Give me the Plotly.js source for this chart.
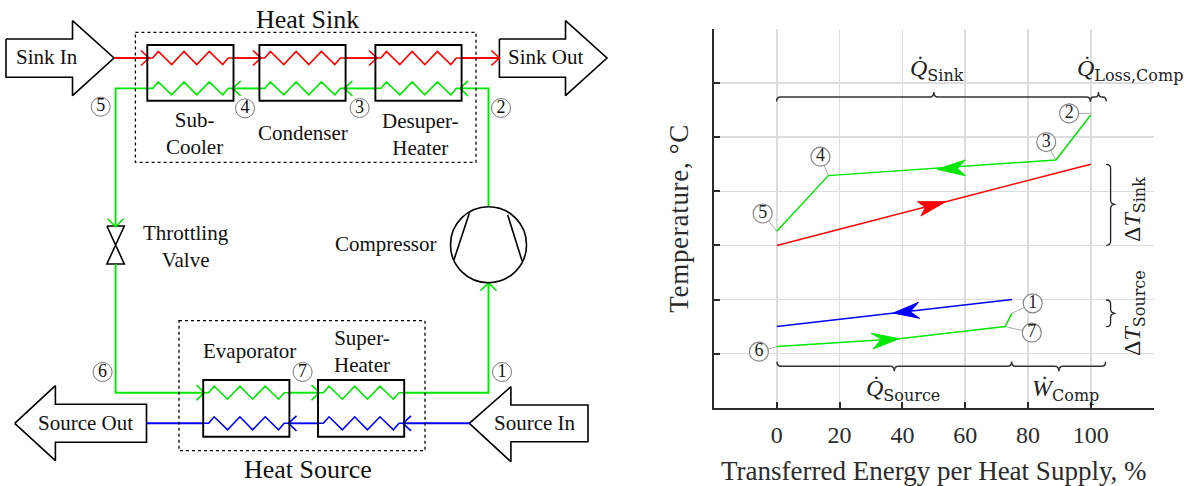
<!DOCTYPE html>
<html><head><meta charset="utf-8">
<script src="https://cdn.plot.ly/plotly-3.0.1.min.js"></script>
<style>html,body{margin:0;padding:0;background:#fff}#c{width:1190px;height:486px}</style>
</head><body><div id="c"></div>
<script>
// ---- T-Q chart values (x: % of heat supply, y: temperature in grid steps; the source has no y numbers)
const sinkX = [0, 100];
const sinkY = [3.0, 4.5];
const sourceX = [0, 74.9];
const sourceY = [1.5, 2.0];
const hotSideX = [0, 16.4, 88.9, 100];
const hotSideY = [3.26, 4.29, 4.58, 5.41];
const coldSideX = [0, 38.9, 72.7, 74.9];
const coldSideY = [1.13, 1.275, 1.5, 1.745];
const xTicks = [0, 20, 40, 60, 80, 100];
const yTicks = [0, 1, 2, 3, 4, 5, 6, 7];
const stateLabels = ['1', '2', '3', '4', '5', '6', '7'];
const stateX = [81.5, 93.1, 85.8, 13.9, -4.5, -5.7, 81.2];
const stateY = [1.93, 5.44, 4.91, 4.64, 3.59, 1.035, 1.386];
const stateAnchorX = [74.9, 100, 88.9, 16.4, 0, 0, 72.7];
const stateAnchorY = [1.745, 5.44, 4.58, 4.29, 3.26, 1.13, 1.5];

// ---- schematic geometry (page pixels, drawn on a hidden full-page axis pair)
const sinkInArrow = [[6,39],[72.5,39],[72.5,20.7],[114,58],[72.5,95.7],[72.5,77.3],[6,77.3],[6,39]];
const sinkOutArrow = [[499.4,39],[565.5,39],[565.5,20.7],[607,58],[565.5,95.7],[565.5,77.3],[499.4,77.3],[499.4,39]];
const sourceInArrow = [[469.3,423.3],[510.9,386.7],[510.9,405],[588,405],[588,441.7],[510.9,441.7],[510.9,461.7],[469.3,423.3]];
const sourceOutArrow = [[14.7,423.3],[55.4,385.7],[55.4,404.3],[146.5,404.3],[146.5,442.3],[55.4,442.3],[55.4,460.7],[14.7,423.3]];
const valve = [[106.9,226],[124.3,226],[115.6,245],[106.9,264],[124.3,264],[115.6,245],[106.9,226]];
const compBladeL = [[469.3,213.3],[453.9,260]];
const compBladeR = [[507.7,215],[522,260.7]];
const sinkBoxesX = [147.3, 259.4, 375.4];
const sourceBoxesX = [203.2, 318];
const boxW = 86.2;
const coilDX = [0,5.4,11,24.4,36.7,49.4,62,75.4,81,86.2];
const coilDY = [0,0,-6.5,6.5,-6.5,6.5,-6.5,6.5,0,0];
const yRedLine = 58, yGreenTop = 88.4, yGreenLow = 392.7, yBlue = 423.3;
const redPipe = [[114,yRedLine],[147.3,yRedLine]], redPipe2 = [[233.5,yRedLine],[259.4,yRedLine]], redPipe3 = [[345.6,yRedLine],[375.4,yRedLine]], redPipe4 = [[461.6,yRedLine],[499.4,yRedLine]];
const greenPipes = [
  [[488.5,206.7],[488.5,yGreenTop],[461.6,yGreenTop]],
  [[375.4,yGreenTop],[345.6,yGreenTop]],
  [[259.4,yGreenTop],[233.5,yGreenTop]],
  [[147.3,yGreenTop],[115.6,yGreenTop],[115.6,226]],
  [[115.6,264],[115.6,yGreenLow],[203.2,yGreenLow]],
  [[289.4,yGreenLow],[318,yGreenLow]],
  [[404.2,yGreenLow],[488.5,yGreenLow],[488.5,282.7]]
];
const bluePipes = [[[469.3,yBlue],[404.2,yBlue]],[[318,yBlue],[289.4,yBlue]],[[203.2,yBlue],[146.5,yBlue]]];
// open arrow heads: tip x, tip y, direction
const openHeads = [
  ['r',149,yRedLine,1],['r',261,yRedLine,1],['r',377,yRedLine,1],['r',499.4,yRedLine,1],
  ['g',460,yGreenTop,-1],['g',344.4,yGreenTop,-1],['g',232.7,yGreenTop,-1],
  ['g',204.5,yGreenLow,1],['g',319.5,yGreenLow,1],
  ['b',403,yBlue,-1],['b',288.5,yBlue,-1]
];
const openHeadsV = [['g',115.6,226.7,1],['g',488.5,282.7,-1]];
// filled stealth heads on the chart
const redHead = [[945.7,201.7],[917.6,201.7],[925.4,207.3],[921,216],[945.7,201.7]];
const greenHead = [[937.2,169.3],[965.3,160],[957.5,168.3],[965.3,175.7],[937.2,169.3]];
const blueHead = [[893.3,313],[918.6,302.3],[910.2,311.7],[919.6,318.3],[893.3,313]];
const lowGreenHead = [[899.3,338.7],[871.3,333.3],[881.4,339.3],[873,349],[899.3,338.7]];
const schemLabels = ['1','2','3','4','5','6','7'];
const schemX = [502, 501, 359.6, 245, 100.7, 102.6, 302.6];
const schemY = [372, 108, 108, 108.3, 106.7, 372, 372];
const texts = [
  ['Heat Sink',307,19,26],['Sink In',46.7,57,21],['Sink Out',545.7,57,21],
  ['Sub-<br>Cooler',194,133.5,21],['Condenser',303,133,21],['Desuper-<br>Heater',420.6,134,21],
  ['Throttling<br>Valve',186,246,21],['Compressor',386,244,21],
  ['Evaporator',249.5,350.7,21],['Super-<br>Heater',362.4,351.5,21],
  ['Source Out',85.5,422.7,21],['Source In',535.4,422.7,21],['Heat Source',308,469.3,26]
];
const sub = s => `<span style="font-family:DejaVu Serif;font-size:16px;baseline-shift:-5px">${s}</span>`;
const mathTexts = [
  ['<i>Q\u0307</i>'+sub('Sink'),937,70,0],
  ['<i>Q\u0307</i>'+sub('Loss,Comp'),1130,70,0],
  ['<i>Q\u0307</i>'+sub('Source'),902.7,390,0],
  ['<i>W\u0307</i>'+sub('Comp'),1065,390,0],
  ['\u0394<i>T</i>'+sub('Sink'),1134,210,-90],
  ['\u0394<i>T</i>'+sub('Source'),1134,313,-90]
];
// curly braces: x0,y,x1 (bar ends), tip coordinate, tip side
const hBraces = [[776.6,97,1090.4,933.8,-1],[1090.4,97,1106.2,1098.5,-1],[777,366.3,1011.6,894.3,1],[1011.6,366.3,1105.6,1058.9,1]];
const vBraces = [[1110.6,164.3,245.3,204.3],[1110.6,300,326.7,313.3]];

const RED='#ff0000', GREEN='#00e800', BLUE='#0000ff', SERIF='"Liberation Serif", "Times New Roman", serif', INK='#2b2b2b';
const colorOf = {r:RED,g:GREEN,b:BLUE};

function poly(points, color, width, extra){
  return Object.assign({type:'scatter',mode:'lines',xaxis:'x2',yaxis:'y2',hoverinfo:'skip',showlegend:false,
    x:points.map(p=>p[0]),y:points.map(p=>p[1]),line:{color:color,width:width}},extra||{});
}
function coil(x0,y,color){
  return poly(coilDX.map((d,i)=>[x0+d,y+coilDY[i]]),color,1.6);
}
const traces=[];
function series(x,y,color,name){traces.push({type:'scatter',mode:'lines',name:name,x:x,y:y,line:{color:color,width:1.5},hoverinfo:'skip',showlegend:false});}
stateLabels.forEach((l,i)=>traces.push({type:'scatter',mode:'lines',x:[stateX[i],stateAnchorX[i]],y:[stateY[i],stateAnchorY[i]],line:{color:'#aaaaaa',width:1},hoverinfo:'skip',showlegend:false}));
series(sinkX,sinkY,RED,'Sink');
series(sourceX,sourceY,BLUE,'Source');
series(hotSideX,hotSideY,GREEN,'Refrigerant, high pressure');
series(coldSideX,coldSideY,GREEN,'Refrigerant, low pressure');
traces.push({type:'scatter',mode:'markers+text',x:stateX,y:stateY,text:stateLabels,textposition:'middle center',
  textfont:{family:SERIF,size:18,color:'#222'},marker:{size:19,color:'#ffffff',line:{color:'#888888',width:1.2}},hoverinfo:'skip',showlegend:false});
[[redHead,RED],[greenHead,GREEN],[blueHead,BLUE],[lowGreenHead,GREEN]].forEach(h=>traces.push(poly(h[0],h[1],1,{fill:'toself',fillcolor:h[1]})));
[sinkInArrow,sinkOutArrow,sourceInArrow,sourceOutArrow,valve,compBladeL,compBladeR].forEach(p=>traces.push(poly(p,'#000',1.6)));
[redPipe,redPipe2,redPipe3,redPipe4].forEach(p=>traces.push(poly(p,RED,1.9)));
greenPipes.forEach(p=>traces.push(poly(p,GREEN,1.9)));
bluePipes.forEach(p=>traces.push(poly(p,BLUE,1.9)));
sinkBoxesX.forEach(x=>{traces.push(coil(x,yRedLine,RED));traces.push(coil(x,yGreenTop,GREEN));});
sourceBoxesX.forEach(x=>{traces.push(coil(x,yGreenLow,GREEN));traces.push(coil(x,yBlue,BLUE));});
openHeads.forEach(h=>traces.push(poly([[h[1]-8*h[3],h[2]-7.5],[h[1],h[2]],[h[1]-8*h[3],h[2]+7.5]],colorOf[h[0]],1.6)));
openHeadsV.forEach(h=>traces.push(poly([[h[1]-8,h[2]-8*h[3]],[h[1],h[2]],[h[1]+8,h[2]-8*h[3]]],colorOf[h[0]],1.6)));
traces.push({type:'scatter',mode:'markers+text',xaxis:'x2',yaxis:'y2',x:schemX,y:schemY,text:schemLabels,textposition:'middle center',
  textfont:{family:SERIF,size:18,color:'#111'},marker:{size:19,color:'rgba(255,255,255,0)',line:{color:'#777777',width:1}},hoverinfo:'skip',showlegend:false});

const shapes=[];
function rect(x0,y0,x1,y1,dash){shapes.push({type:'rect',xref:'x2',yref:'y2',x0,y0,x1,y1,line:{color:'#000',width:dash?1.3:1.9,dash:dash||'solid'}});}
rect(135.4,32.3,476,162.3,'dot');
rect(179,320.7,425,450.7,'dot');
sinkBoxesX.forEach(x=>rect(x,45,x+boxW,100.7));
sourceBoxesX.forEach(x=>rect(x,380,x+boxW,436.7));
shapes.push({type:'circle',xref:'x2',yref:'y2',x0:450.5,x1:526.5,y0:206.7,y1:282.7,line:{color:'#000',width:1.6}});
hBraces.forEach(b=>{const [x0,y,x1,t,s]=b,e=y-s*4.5,tip=y+s*5,r=Math.min(4,(x1-x0)/5);
  shapes.push({type:'path',xref:'x2',yref:'y2',line:{color:'#333',width:1.5},
  path:`M${x0},${e} Q${x0},${y} ${x0+r},${y} L${t-r},${y} Q${t},${y} ${t},${tip} Q${t},${y} ${t+r},${y} L${x1-r},${y} Q${x1},${y} ${x1},${e}`});});
vBraces.forEach(b=>{const [x,y0,y1,t]=b,e=x-4.5,tip=x+5,r=4;
  shapes.push({type:'path',xref:'x2',yref:'y2',line:{color:'#222',width:1.3},
  path:`M${e},${y0} Q${x},${y0} ${x},${y0+r} L${x},${t-r} Q${x},${t} ${tip},${t} Q${x},${t} ${x},${t+r} L${x},${y1-r} Q${x},${y1} ${e},${y1}`});});

const annotations=[];
texts.forEach(t=>annotations.push({xref:'x2',yref:'y2',x:t[1],y:t[2],text:t[0],showarrow:false,xanchor:'center',yanchor:'middle',
  font:{family:SERIF,size:t[3],color:'#111'},borderpad:0}));
mathTexts.forEach(t=>annotations.push({xref:'x2',yref:'y2',x:t[1],y:t[2],text:t[0],textangle:t[3],showarrow:false,xanchor:'center',yanchor:'middle',
  font:{family:SERIF,size:24,color:'#222'},borderpad:0}));

const layout={
  width:1190,height:486,margin:{l:0,r:0,t:0,b:0},paper_bgcolor:'#fff',plot_bgcolor:'rgba(0,0,0,0)',showlegend:false,
  xaxis:{domain:[714/1190,1153.6/1190],range:[-20,120],tickmode:'array',tickvals:xTicks,ticktext:xTicks.map(String),
    showline:true,linecolor:INK,linewidth:2,ticks:'inside',ticklen:6,tickwidth:2,tickcolor:INK,
    showgrid:true,gridcolor:'#dddddd',gridwidth:1.5,zeroline:false,ticklabelstandoff:4,
    tickfont:{family:SERIF,size:24,color:INK},
    title:{text:'Transferred Energy per Heat Supply, %',font:{family:SERIF,size:27,color:INK},standoff:21},automargin:false},
  yaxis:{domain:[(486-407.7)/486,(486-29)/486],range:[0,7],tickmode:'array',tickvals:yTicks,showticklabels:false,
    showline:true,linecolor:INK,linewidth:2,ticks:'inside',ticklen:6,tickwidth:2,tickcolor:INK,
    showgrid:true,gridcolor:'#dddddd',gridwidth:1.5,zeroline:false,
    title:{text:'<span style="letter-spacing:0.7px">Temperature, °C</span>',font:{family:SERIF,size:27,color:INK},standoff:16},automargin:false},
  xaxis2:{domain:[0,1],range:[0,1190],visible:false,anchor:'y2',fixedrange:true},
  yaxis2:{domain:[0,1],range:[486,0],visible:false,anchor:'x2',fixedrange:true},
  shapes,annotations
};
Plotly.newPlot('c',traces,layout,{displayModeBar:false,staticPlot:true});
</script></body></html>
